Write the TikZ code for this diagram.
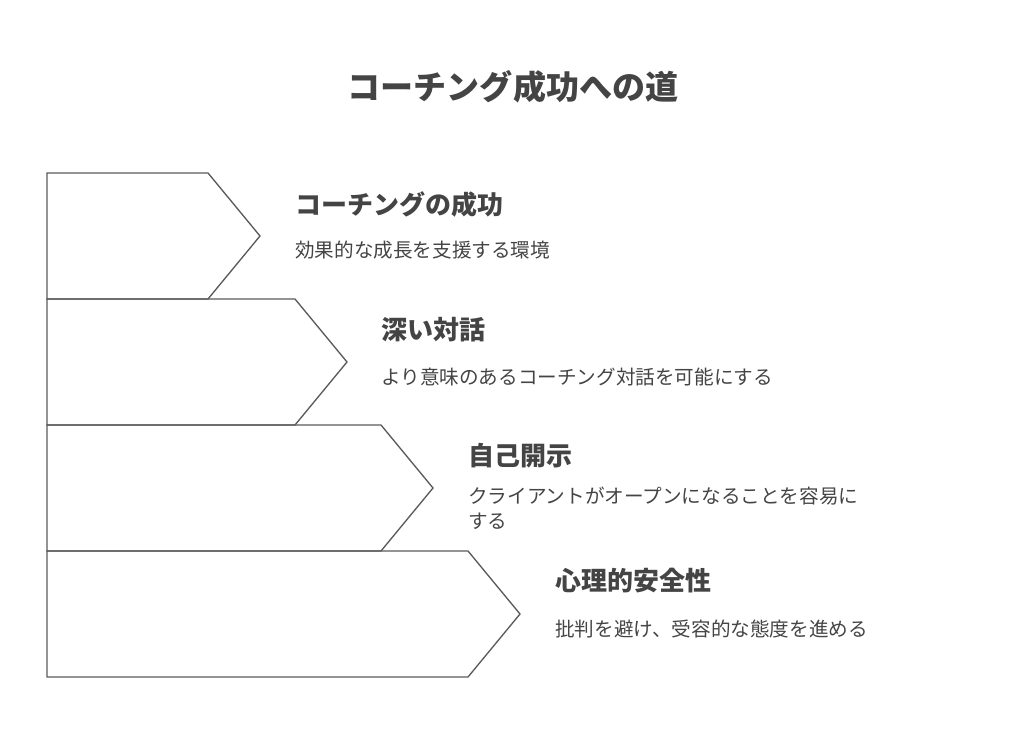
\documentclass[tikz,border=0pt]{standalone}
\usepackage{fontspec}
\newfontfamily\cjk{Noto Sans CJK JP}
\usepackage{tikz}
\usetikzlibrary{positioning}
\definecolor{inkgray}{HTML}{444444}
\definecolor{edgegray}{HTML}{5A5A5A}
\tikzset{
  chevron/.style={
    draw=edgegray,
    line width=1pt,
    line join=miter
  },
  main title/.style={
    font=\cjk\bfseries\fontsize{24.8}{29}\selectfont,
    text=inkgray,
    inner sep=0pt
  },
  step title/.style={
    font=\cjk\bfseries\fontsize{19.5}{23}\selectfont,
    text=inkgray,
    anchor=west,
    inner sep=0pt
  },
  step text/.style={
    font=\cjk\fontsize{14.7}{18.75}\selectfont,
    text=inkgray,
    anchor=west,
    align=left,
    inner sep=0pt
  }
}

\begin{document}
\begin{tikzpicture}[x=0.75pt, y=-0.75pt]
    % 画布范围 (1024 x 741 像素)
    \useasboundingbox (0, 0) rectangle (1024, 741);

    % 1. 标题
    \node[main title] (title) at (513, 87) {コーチング成功への道};

    % 2. 四层箭头形状 (从上到下逐层变宽)
    \foreach \i/\r in {0/208, 1/295, 2/381, 3/468} {
      \coordinate (top\i) at (47, 173+126*\i);
      \draw[chevron] (top\i) -- ++(\r-47, 0) -- ++(52, 63) -- ++(-52, 63)
        -- ++(47-\r, 0) -- cycle;
    }

    % 3. 各层文字
    \node[step title] (t1) at (295, 205) {コーチングの成功};
    \node[step text]  (d1) at (295, 250) {効果的な成長を支援する環境};

    \node[step title] (t2) at (381, 330) {深い対話};
    \node[step text]  (d2) at (381, 377) {より意味のあるコーチング対話を可能にする};

    \node[step title] (t3) at (468, 456) {自己開示};
    \node[step text]  (d3) at (468, 508.5) {クライアントがオープンになることを容易に\\する};

    \node[step title] (t4) at (555, 581) {心理的安全性};
    \node[step text]  (d4) at (555, 629) {批判を避け、受容的な態度を進める};

  \end{tikzpicture}
\end{document}
